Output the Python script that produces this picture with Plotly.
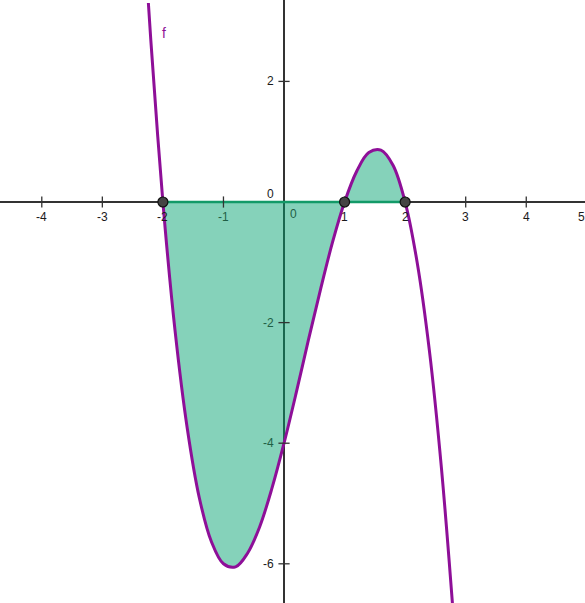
import plotly.graph_objects as go

# Curve values
curve_x = [-2.24, -2.2, -2.0, -1.8, -1.6, -1.4, -1.2, -1.0, -0.8, -0.6, -0.4, -0.2, 0.0,
           0.2, 0.4, 0.6, 0.8, 1.0, 1.2, 1.4, 1.6, 1.8, 2.0, 2.2, 2.4, 2.6, 2.8]
curve_y = [3.30, 2.69, 0.0, -2.13, -3.74, -4.90, -5.63, -6.0, -6.05, -5.82, -5.38, -4.75, -4.0,
           -3.17, -2.30, -1.46, -0.67, 0.0, 0.51, 0.82, 0.86, 0.61, 0.0, -1.01, -2.46, -4.42, -6.91]

# Shaded region between the curve and the x-axis
fill_x = [-2.0, -1.8, -1.6, -1.4, -1.2, -1.0, -0.8, -0.6, -0.4, -0.2, 0.0,
          0.2, 0.4, 0.6, 0.8, 1.0, 1.2, 1.4, 1.6, 1.8, 2.0]
fill_y = [0.0, -2.13, -3.74, -4.90, -5.63, -6.0, -6.05, -5.82, -5.38, -4.75, -4.0,
          -3.17, -2.30, -1.46, -0.67, 0.0, 0.51, 0.82, 0.86, 0.61, 0.0]

# Roots marked with points
root_x = [-2, 1, 2]
root_y = [0, 0, 0]

x_ticks = [-4, -3, -2, -1, 0, 1, 2, 3, 4, 5]
y_ticks = [2, 0, -2, -4, -6]

func_label = "f"

purple = "#8E0F98"
fill_col = "rgba(0,160,110,0.48)"
edge_green = "#139A68"
axis_col = "#333333"
font_fam = "Liberation Sans, Arial, sans-serif"
x_range = [-4.69, 4.97]
y_range = [-6.65, 3.35]

fig = go.Figure()

fig.add_trace(go.Scatter(x=fill_x, y=fill_y, mode="lines", line=dict(width=0, shape="spline"),
                         fill="tozeroy", fillcolor=fill_col, hoverinfo="skip", showlegend=False))
fig.add_trace(go.Scatter(x=[fill_x[0], fill_x[-1]], y=[0, 0], mode="lines",
                         line=dict(color=edge_green, width=2.5), showlegend=False))
fig.add_trace(go.Scatter(x=curve_x, y=curve_y, mode="lines",
                         line=dict(color=purple, width=3, shape="spline", smoothing=1.0),
                         showlegend=False))
# tick marks
xt = [t for t in x_ticks if t != 0]
yt = [t for t in y_ticks if t != 0]
fig.add_trace(go.Scatter(x=xt, y=[0] * len(xt), mode="markers",
                         marker=dict(symbol="line-ns-open", size=8, color=axis_col,
                                     line=dict(color=axis_col, width=1.3)),
                         showlegend=False))
fig.add_trace(go.Scatter(x=[0] * len(yt), y=yt, mode="markers",
                         marker=dict(symbol="line-ew-open", size=8, color=axis_col,
                                     line=dict(color=axis_col, width=1.3)),
                         showlegend=False))
fig.add_trace(go.Scatter(x=root_x, y=root_y, mode="markers",
                         marker=dict(size=10, color="#444444", line=dict(color="#111111", width=1.2)),
                         showlegend=False))

in_fill_x = {-1, 0}
for t in x_ticks:
    xv = t + (0.15 if t == 0 else 0)
    col = "#1f5f45" if t in in_fill_x else "#1a1a1a"
    if xv > x_range[1]:
        # label sits at the clipped right edge; place it in paper coords
        fig.add_annotation(x=(xv - x_range[0]) / (x_range[1] - x_range[0]), xref="paper",
                           y=0, yref="y", yshift=-15, text=str(t), showarrow=False,
                           font=dict(size=12, color=col, family=font_fam))
    else:
        fig.add_annotation(x=xv, y=0, yshift=(-12 if t == 0 else -15),
                           text=str(t), showarrow=False,
                           font=dict(size=12, color=col, family=font_fam))
for t in y_ticks:
    fig.add_annotation(x=0, y=t + (0.14 if t == 0 else 0), xshift=-8, xanchor="right", text=str(t),
                       showarrow=False,
                       font=dict(size=12, color="#1f5f45" if t in (-2, -4) else "#1a1a1a",
                                 family=font_fam))

fig.add_annotation(x=-1.98, y=2.8, text=func_label, showarrow=False,
                   font=dict(size=14, color=purple, family=font_fam))

fig.update_layout(
    width=585, height=603,
    margin=dict(l=0, r=0, t=0, b=0),
    plot_bgcolor="white", paper_bgcolor="white",
    xaxis=dict(range=x_range, showgrid=False, showticklabels=False, ticks="",
               zeroline=True, zerolinecolor=axis_col, zerolinewidth=1.5, fixedrange=True),
    yaxis=dict(range=y_range, showgrid=False, showticklabels=False, ticks="",
               zeroline=True, zerolinecolor=axis_col, zerolinewidth=1.5, fixedrange=True),
)

fig.write_html("out.html", config={"displayModeBar": False},
               post_script="document.body.style.margin='0';document.body.style.overflow='hidden';")
